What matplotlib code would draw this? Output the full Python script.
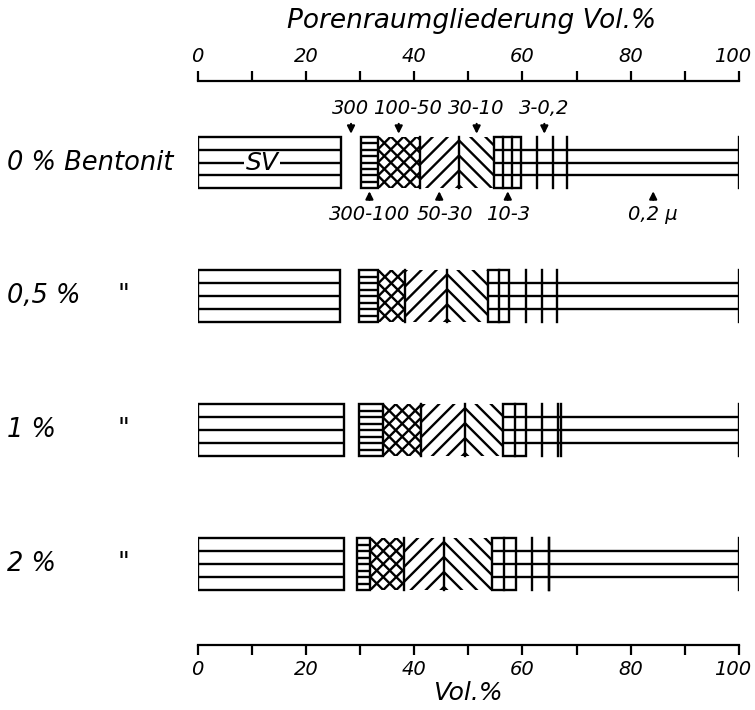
import matplotlib.pyplot as plt
import matplotlib.transforms as mtransforms
from matplotlib.lines import Line2D
from matplotlib.patches import Rectangle
import numpy as np

plt.rcParams['font.family'] = ['DejaVu Sans']
plt.rcParams['font.style'] = 'italic'

# pore space classes per bentonite addition, Vol.% (widths of each class)
row_labels = ["0 % Bentonit", "0,5 %", "1 %", "2 %"]
sv = [26.5, 26.3, 27.1, 27.1]
gt300 = [3.7, 3.6, 2.8, 2.3]
c300_100 = [3.1, 3.5, 4.3, 2.5]
c100_50 = [7.7, 4.9, 7.1, 6.2]
c50_30 = [7.3, 7.8, 8.1, 7.4]
c30_10 = [6.5, 7.5, 7.1, 8.9]
c10_3 = [5.0, 4.0, 4.2, 4.5]
c3_02 = [[2.9, 2.9, 2.7], [3.0, 3.1, 2.6], [2.9, 3.0, 0.6], [2.9, 3.1, 0.0]]
lt02 = [31.7, 33.7, 32.8, 35.1]

top_notes = ["300", "100-50", "30-10", "3-0,2"]
bottom_notes = ["300-100", "50-30", "10-3", "0,2 µ"]
xticks = [0, 20, 40, 60, 80, 100]

# small horizontal nudges (points) for note labels sitting close together
note_dx = {"100-50": 6, "50-30": 4}

W, H = 755, 710
LW = 1.7
HH = 0.194  # half bar height in row units

fig = plt.figure(figsize=(W / 100, H / 100), dpi=100)
ax = fig.add_axes([197.5 / W, 65 / H, 541.5 / W, 564 / H])
ax.set_xlim(0, 100)
ax.set_ylim(4.605, 0.391)

KX = 541.5 / 100  # px per Vol.%
KY = 564 / (4.605 - 0.391)  # px per row unit


def hline(x0, x1, y):
    ax.add_line(Line2D([x0, x1], [y, y], color="k", lw=LW, solid_capstyle="butt"))


def vline(x, y0, y1):
    ax.add_line(Line2D([x, x], [y0, y1], color="k", lw=LW, solid_capstyle="projecting"))


def box(x0, x1, yc):
    ax.add_patch(Rectangle((x0, yc - HH), x1 - x0, 2 * HH, fill=False,
                           ec="k", lw=LW, joinstyle="miter"))


def diagonals(x0, x1, yc, sign, spacing, ua, va):
    """Parallel 45 degree lines inside a cell, anchored through (ua, va) in px."""
    clip = Rectangle((x0, yc - HH), x1 - x0, 2 * HH, transform=ax.transData)
    u0, u1 = x0 * KX, x1 * KX
    vt, vb = -(yc - HH) * KY, -(yc + HH) * KY
    if sign > 0:
        c0 = va - ua
        lo, hi = vb - u1, vt - u0
    else:
        c0 = va + ua
        lo, hi = vb + u0, vt + u1
    k0 = int(np.floor((lo - c0) / spacing)) - 1
    k1 = int(np.ceil((hi - c0) / spacing)) + 1
    uu = np.array([u0 - 5, u1 + 5])
    for k in range(k0, k1 + 1):
        c = c0 + k * spacing
        vv = sign * uu + c
        ln = Line2D(uu / KX, -vv / KY, color="k", lw=LW)
        ax.add_line(ln)
        ln.set_clip_path(clip)


centers = {}
for i in range(4):
    yc = i + 1.0
    edges = np.cumsum([0, sv[i], gt300[i], c300_100[i], c100_50[i],
                       c50_30[i], c30_10[i], c10_3[i]])
    (e0, e_sv, e_gap, e_300, e_100, e_50, e_30, e_10) = edges
    quarters = [yc - HH / 2, yc, yc + HH / 2]

    # SV, the first row carries the "SV" lettering on its middle line
    box(e0, e_sv, yc)
    hline(e0, e_sv, quarters[0])
    hline(e0, e_sv, quarters[2])
    if i == 0:
        sv_x = e_sv * 0.45
        hline(e0, sv_x - 3.3, yc)
        hline(sv_x + 3.3, e_sv, yc)
        ax.text(sv_x, yc, "SV", fontsize=18, ha="center", va="center")
    else:
        hline(e0, e_sv, yc)

    # 300-100 µ
    box(e_gap, e_300, yc)
    for y in np.linspace(yc - HH, yc + HH, 9)[1:-1]:
        hline(e_gap, e_300, y)

    # 100-50 µ cross hatch
    ua, va = e_300 * KX, -(yc + HH) * KY
    diagonals(e_300, e_100, yc, 1, 13.0, ua, va)
    diagonals(e_300, e_100, yc, -1, 13.0, ua, va)
    vline(e_100, yc - HH, yc + HH)

    # 50-30 and 30-10 µ meeting as chevrons
    ub, vb0 = e_50 * KX, -(yc + HH) * KY + 3
    diagonals(e_100, e_50, yc, 1, 15.0, ub, vb0)
    diagonals(e_50, e_30, yc, -1, 15.0, ub, vb0)
    vline(e_50, yc - HH, yc + HH)

    # 10-3 µ grid
    box(e_30, e_10, yc)
    for y in quarters:
        hline(e_30, e_10, y)
    ncol = max(1, int(round(c10_3[i] / 1.9)))
    for x in np.linspace(e_30, e_10, ncol + 1)[1:-1]:
        vline(x, yc - HH, yc + HH)

    # 3-0,2 µ and < 0,2 µ
    for y in quarters:
        hline(e_10, 100, y)
    x = e_10
    for w in c3_02[i]:
        x += w
        vline(x, yc - HH, yc + HH)
    e_3 = x
    vline(e_3 + lt02[i], yc - HH, yc + HH)

    if i == 0:
        centers = {
            "300": (e_sv + e_gap) / 2,
            "300-100": (e_gap + e_300) / 2,
            "100-50": (e_300 + e_100) / 2,
            "50-30": (e_100 + e_50) / 2,
            "30-10": (e_50 + e_30) / 2,
            "10-3": (e_30 + e_10) / 2,
            "3-0,2": (e_10 + e_3) / 2,
            "0,2 µ": (e_3 + 100) / 2,
        }

arrow = dict(arrowstyle="-|>", color="k", lw=1.5, mutation_scale=11,
             shrinkA=2, shrinkB=2)
for name in top_notes:
    dx = note_dx.get(name, 0)
    ax.annotate(name, xy=(centers[name], 1 - HH), xytext=(dx, 20),
                textcoords="offset points", ha="center", va="center",
                fontsize=14, arrowprops=dict(arrow, relpos=(0.5 - dx / 50, 0.0)))
for name in bottom_notes:
    dx = note_dx.get(name, 0)
    ax.annotate(name, xy=(centers[name], 1 + HH), xytext=(dx, -19),
                textcoords="offset points", ha="center", va="center",
                fontsize=14, arrowprops=dict(arrow, relpos=(0.5 - dx / 40, 1.0)))

# row labels on the left
trans = mtransforms.blended_transform_factory(fig.transFigure, ax.transData)
for i, lab in enumerate(row_labels):
    ax.text(7 / W, i + 1, lab, transform=trans, fontsize=18.5, ha="left",
            va="center")
    if i > 0:
        ax.text(123 / W, i + 1, '"', transform=trans, fontsize=18.5,
                ha="center", va="center")

# axes: scale on top and bottom
for side in ("left", "right"):
    ax.spines[side].set_visible(False)
for side in ("top", "bottom"):
    ax.spines[side].set_linewidth(1.6)
ax.set_yticks([])
ax.set_xticks(xticks)
ax.set_xticks(np.arange(10, 100, 20), minor=True)
ax.set_xticklabels([str(t) for t in xticks], fontsize=14)
ax.tick_params(axis="x", which="both", top=True, bottom=True, labeltop=True,
               labelbottom=True, direction="out", length=7, width=1.6)
ax.tick_params(axis="x", which="major", pad=4)
ax.set_xlabel("Vol.%", fontsize=18, labelpad=1)

# keep the last scale label inside the figure
last = ax.xaxis.get_major_ticks()[-1]
shift = mtransforms.ScaledTranslation(-6 / 100, 0, fig.dpi_scale_trans)
for lab in (last.label1, last.label2):
    lab.set_transform(lab.get_transform() + shift)

fig.text(472 / W, 1 - 21 / H, "Porenraumgliederung Vol.%", fontsize=19,
         ha="center", va="center")

fig.savefig("out.png", dpi=100)
